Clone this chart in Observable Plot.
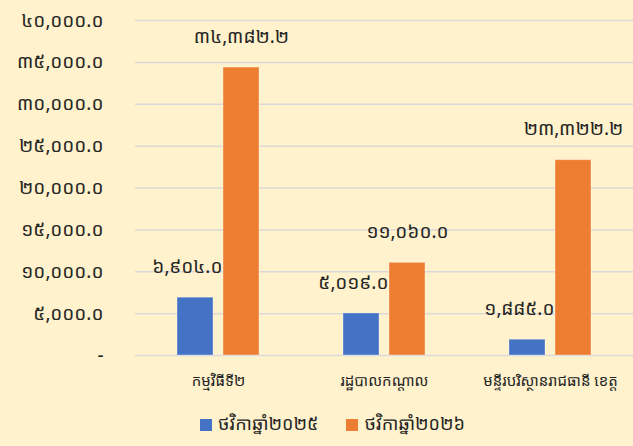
<!DOCTYPE html>
<html>
<head>
<meta charset="utf-8">
<script src="https://cdn.jsdelivr.net/npm/d3@7"></script>
<script src="https://cdn.jsdelivr.net/npm/@observablehq/plot@0.6"></script>
<style>
  html, body { margin: 0; padding: 0; background: #FFF2CC; }
  body { width: 633px; height: 446px; overflow: hidden; font-family: "Khmer OS System", "Khmer OS", "Noto Sans Khmer", "Noto Sans", "DejaVu Sans", sans-serif; color: #262626; }
  #legend { display: flex; align-items: center; height: 46px; padding-left: 200px; font-size: 18px; }
  .item { display: flex; align-items: center; margin-right: 28px; }
  .sw { width: 12px; height: 12px; margin-right: 6px; margin-top: 4px; }
  svg text.num { letter-spacing: 1.2px; }
</style>
</head>
<body>
<div id="chart"></div>
<div id="legend"></div>
<script>
const categories = ["កម្មវិធីទី២", "រដ្ឋបាលកណ្ដាល", "មន្ទីរបរិស្ថានរាជធានី ខេត្ត"];
const series = ["ថវិកាឆ្នាំ២០២៥", "ថវិកាឆ្នាំ២០២៦"];
const values2025 = [6904.0, 5019.0, 1885.0];
const values2026 = [34382.2, 11060.0, 23322.2];
const yTicks = [0, 5000, 10000, 15000, 20000, 25000, 30000, 35000, 40000];
const colors = ["#4472C4", "#ED7D31"];

const khDigits = "០១២៣៤៥៦៧៨៩";
const toKhmer = s => s.replace(/[0-9]/g, d => khDigits[+d]);
const fmt = v => v === 0 ? "-" : toKhmer(d3.format(",.1f")(v));

const data = [];
categories.forEach((c, i) => {
  data.push({category: c, series: series[0], value: values2025[i]});
  data.push({category: c, series: series[1], value: values2026[i]});
});
const d25 = data.filter(d => d.series === series[0]);
const d26 = data.filter(d => d.series === series[1]);

const font = '"Khmer OS System", "Khmer OS", "Noto Sans Khmer", "Noto Sans", "DejaVu Sans", sans-serif';

const chart = Plot.plot({
  width: 633,
  height: 400,
  marginLeft: 134,
  marginRight: 0,
  marginTop: 20,
  marginBottom: 45,
  style: {background: "transparent", fontFamily: font, fontSize: "19px", color: "#262626"},
  fx: {domain: categories, padding: 0, label: null, axis: null},
  x: {domain: series, axis: null, paddingInner: 0.213, paddingOuter: 0.883},
  y: {domain: [0, 40000], label: null},
  color: {domain: series, range: colors},
  marks: [
    Plot.ruleY(yTicks, {stroke: "#d9d9d9", strokeWidth: 1.5}),
    Plot.axisY(yTicks, {tickSize: 0, tickPadding: 32, tickFormat: fmt, label: null, fontSize: 19, fill: "#262626", className: "num"}),
    Plot.axisFx({anchor: "bottom", tickSize: 0, tickPadding: 20, label: null, fontSize: 15, fill: "#262626"}),
    Plot.barY(data, {fx: "category", x: "series", y: "value", fill: "series", stroke: "#ffffff", strokeOpacity: 0.35, strokeWidth: 1}),
    Plot.text(d25, {fx: "category", x: "series", y: "value", text: d => fmt(d.value), textAnchor: "end", dx: 27, dy: -31, fontSize: 19, fill: "#262626", className: "num"}),
    Plot.text(d26, {fx: "category", x: "series", y: "value", text: d => fmt(d.value), dy: -31, fontSize: 19, fill: "#262626", className: "num"})
  ]
});
document.getElementById("chart").appendChild(chart);

const legend = document.getElementById("legend");
series.forEach((s, i) => {
  const it = document.createElement("div");
  it.className = "item";
  const sw = document.createElement("div");
  sw.className = "sw";
  sw.style.background = colors[i];
  const t = document.createElement("span");
  t.textContent = s;
  it.appendChild(sw);
  it.appendChild(t);
  legend.appendChild(it);
});
</script>
</body>
</html>
